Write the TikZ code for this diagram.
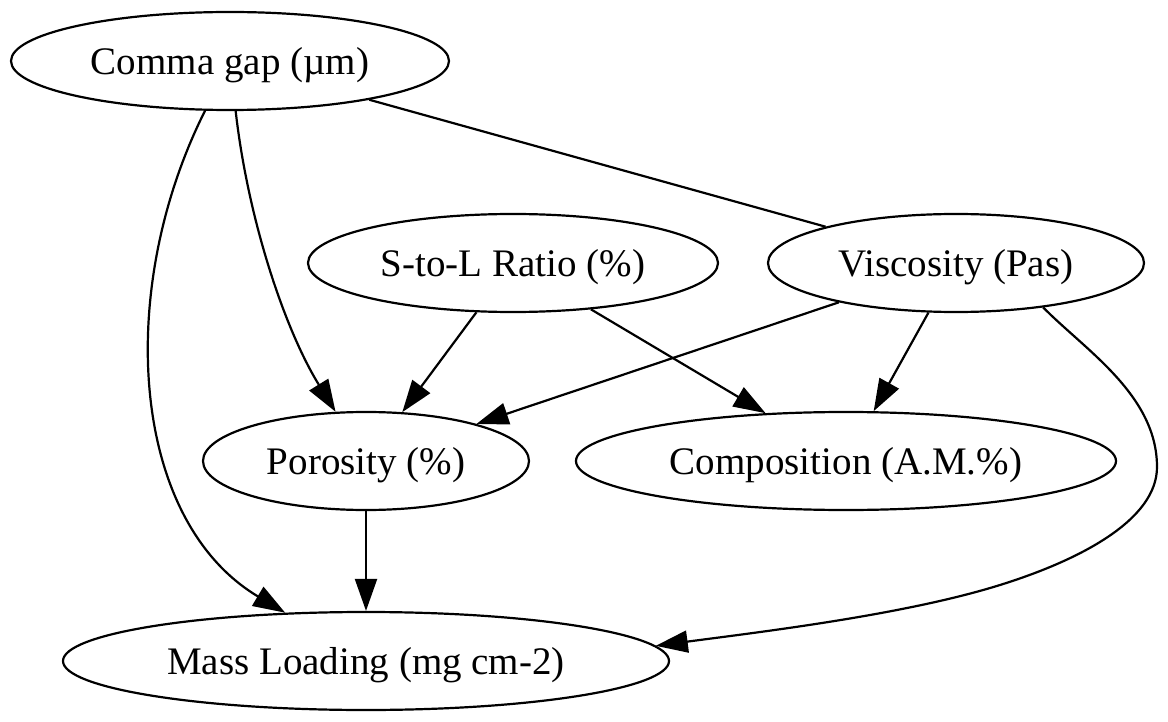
\documentclass[tikz,border=0pt]{standalone}
\usepackage{fontspec}
\setmainfont{Liberation Serif}
\usetikzlibrary{shapes.geometric,arrows.meta}
\begin{document}
\begin{tikzpicture}[x=1pt,y=-1pt,
  nd/.style={draw, ellipse, line width=2.2pt, inner sep=0pt, minimum height=98pt, text depth=0pt, font=\fontsize{39}{46}\selectfont},
  ar/.style={line width=2.2pt, -{Triangle[length=32pt,width=22pt]}},
  ln/.style={line width=2.2pt}]
\useasboundingbox (0,0) rectangle (1168,722);
\node[nd, minimum width=438pt] (cg) at (230,61) {Comma gap (µm)};
\node[nd, minimum width=410pt] (sl) at (513,263) {S-to-L Ratio (\%)};
\node[nd, minimum width=376pt] (vi) at (956,263) {Viscosity (Pas)};
\node[nd, minimum width=326pt] (po) at (366,461) {Porosity (\%)};
\node[nd, minimum width=540pt] (co) at (846,461) {Composition (A.M.\%)};
\node[nd, minimum width=606pt] (ml) at (366,661) {Mass Loading (mg cm-2)};

\draw[ar] (cg) .. controls (115,290) and (130,520) .. (ml);
\draw[ar] (cg) .. controls (248,220) and (285,330) .. (po);
\draw[ln] (cg) -- (vi);
\draw[ar] (sl) -- (po);
\draw[ar] (sl) -- (co);
\draw[ar] (vi) -- (po);
\draw[ar] (vi) -- (co);
\draw[ar] (po) -- (ml);
\draw[ar] (vi.-27.4) .. controls (1085,350) and (1157,395) .. (1157,467)
  .. controls (1157,520) and (1080,560) .. (1000,585)
  .. controls (904,615) and (760,632) .. (ml.3.8);
\end{tikzpicture}
\end{document}
